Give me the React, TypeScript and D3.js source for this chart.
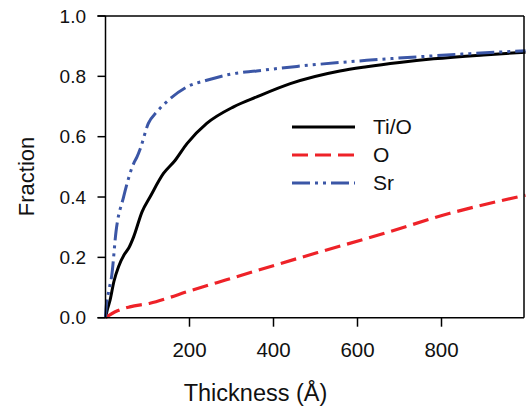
import React from "react";
import * as d3 from "d3";

// Fraction vs. film thickness for the three species
const tiX = [0, 5, 11, 20, 31, 45, 55, 67, 87, 106, 138, 166, 194, 241, 305, 360, 440, 558, 622, 700, 781, 900, 1000];
const tiY = [0, 0.03, 0.059, 0.12, 0.169, 0.21, 0.23, 0.268, 0.351, 0.4, 0.478, 0.522, 0.577, 0.644, 0.699, 0.732, 0.776, 0.818, 0.832, 0.846, 0.858, 0.871, 0.88];

const oX = [0, 27, 58, 106, 146, 194, 265, 360, 503, 662, 820, 1000];
const oY = [0, 0.022, 0.036, 0.048, 0.064, 0.086, 0.116, 0.156, 0.215, 0.279, 0.346, 0.406];

const srX = [0, 1, 8, 15, 25, 43, 67, 75, 83, 102, 122, 150, 194, 241, 297, 360, 456, 558, 622, 781, 1000];
const srY = [0, 0.025, 0.09, 0.141, 0.285, 0.4, 0.511, 0.533, 0.561, 0.644, 0.682, 0.721, 0.765, 0.787, 0.807, 0.818, 0.833, 0.846, 0.853, 0.868, 0.885];

const xTicks = [200, 400, 600, 800];
const yTicks = [0, 0.2, 0.4, 0.6, 0.8, 1.0];

const seriesNames = ["Ti/O", "O", "Sr"];

const W = 527;
const H = 409;
const FONT = "'Liberation Sans', Arial, Helvetica, sans-serif";

export default function App() {
  const x = d3.scaleLinear().domain([0, 1000]).range([105.5, 525.5]);
  const y = d3.scaleLinear().domain([0, 1]).range([317.7, 16]);

  const line = d3
    .line<[number, number]>()
    .x((d) => x(d[0]))
    .y((d) => y(d[1]))
    .curve(d3.curveMonotoneX);

  const zip = (xs: number[], ys: number[]) => xs.map((v, i) => [v, ys[i]] as [number, number]);

  const series = [
    { name: seriesNames[0], d: line(zip(tiX, tiY)), color: "#000000", dash: undefined, width: 3 },
    { name: seriesNames[1], d: line(zip(oX, oY)), color: "#ee2228", dash: "16,7", width: 3.2 },
    { name: seriesNames[2], d: line(zip(srX, srY)), color: "#3b56a6", dash: "18,5,3,5,3,5", width: 3 },
  ];

  const x0 = x(0);
  const x1 = 524;
  const yTop = y(1);
  const yBot = y(0);
  const fmt = d3.format(".1f");

  const legendX0 = 292;
  const legendX1 = 355;
  const legendY = [127, 155, 183];

  return (
    <svg
      width={W}
      height={H}
      style={{ position: "absolute", left: 0, top: 0, display: "block", background: "#fff" }}
      fontFamily={FONT}
    >
      {/* curves */}
      <g fill="none" strokeLinejoin="round">
        {series.map((s) => (
          <path key={s.name} d={s.d || ""} stroke={s.color} strokeWidth={s.width} strokeDasharray={s.dash} />
        ))}
      </g>

      {/* frame */}
      <g stroke="#000" strokeWidth={1.5} fill="none">
        <line x1={x0} y1={yTop} x2={x0} y2={yBot} />
        <line x1={x0 - 8} y1={yBot} x2={x1} y2={yBot} />
        <line x1={x0 - 8} y1={yTop} x2={x1} y2={yTop} />
        <line x1={x1} y1={yTop} x2={x1} y2={yBot} />
      </g>

      {/* y axis */}
      <g>
        {yTicks.map((t) => (
          <g key={t}>
            <line x1={x0 - 8} x2={x0} y1={y(t)} y2={y(t)} stroke="#000" strokeWidth={1.5} />
            <text x={86} y={y(t)} dy="0.35em" textAnchor="end" fontSize={19} fill="#111">
              {fmt(t)}
            </text>
          </g>
        ))}
      </g>

      {/* x axis */}
      <g>
        {xTicks.map((t) => (
          <g key={t}>
            <line x1={x(t)} x2={x(t)} y1={yBot} y2={yBot + 9} stroke="#000" strokeWidth={1.5} />
            <text x={x(t)} y={356.5} textAnchor="middle" fontSize={20.5} fill="#111">
              {t}
            </text>
          </g>
        ))}
      </g>

      {/* axis titles */}
      <text x={255.5} y={401} textAnchor="middle" fontSize={23.5} fill="#111">
        Thickness (Å)
      </text>
      <text
        transform="translate(34,176.5) rotate(-90)"
        textAnchor="middle"
        fontSize={22}
        fill="#111"
      >
        Fraction
      </text>

      {/* legend */}
      <g>
        {series.map((s, i) => (
          <g key={s.name}>
            <line
              x1={legendX0}
              x2={legendX1}
              y1={legendY[i]}
              y2={legendY[i]}
              stroke={s.color}
              strokeWidth={s.width}
              strokeDasharray={s.dash}
            />
            <text x={373} y={legendY[i]} dy="0.35em" fontSize={21} fill="#111">
              {s.name}
            </text>
          </g>
        ))}
      </g>
    </svg>
  );
}
